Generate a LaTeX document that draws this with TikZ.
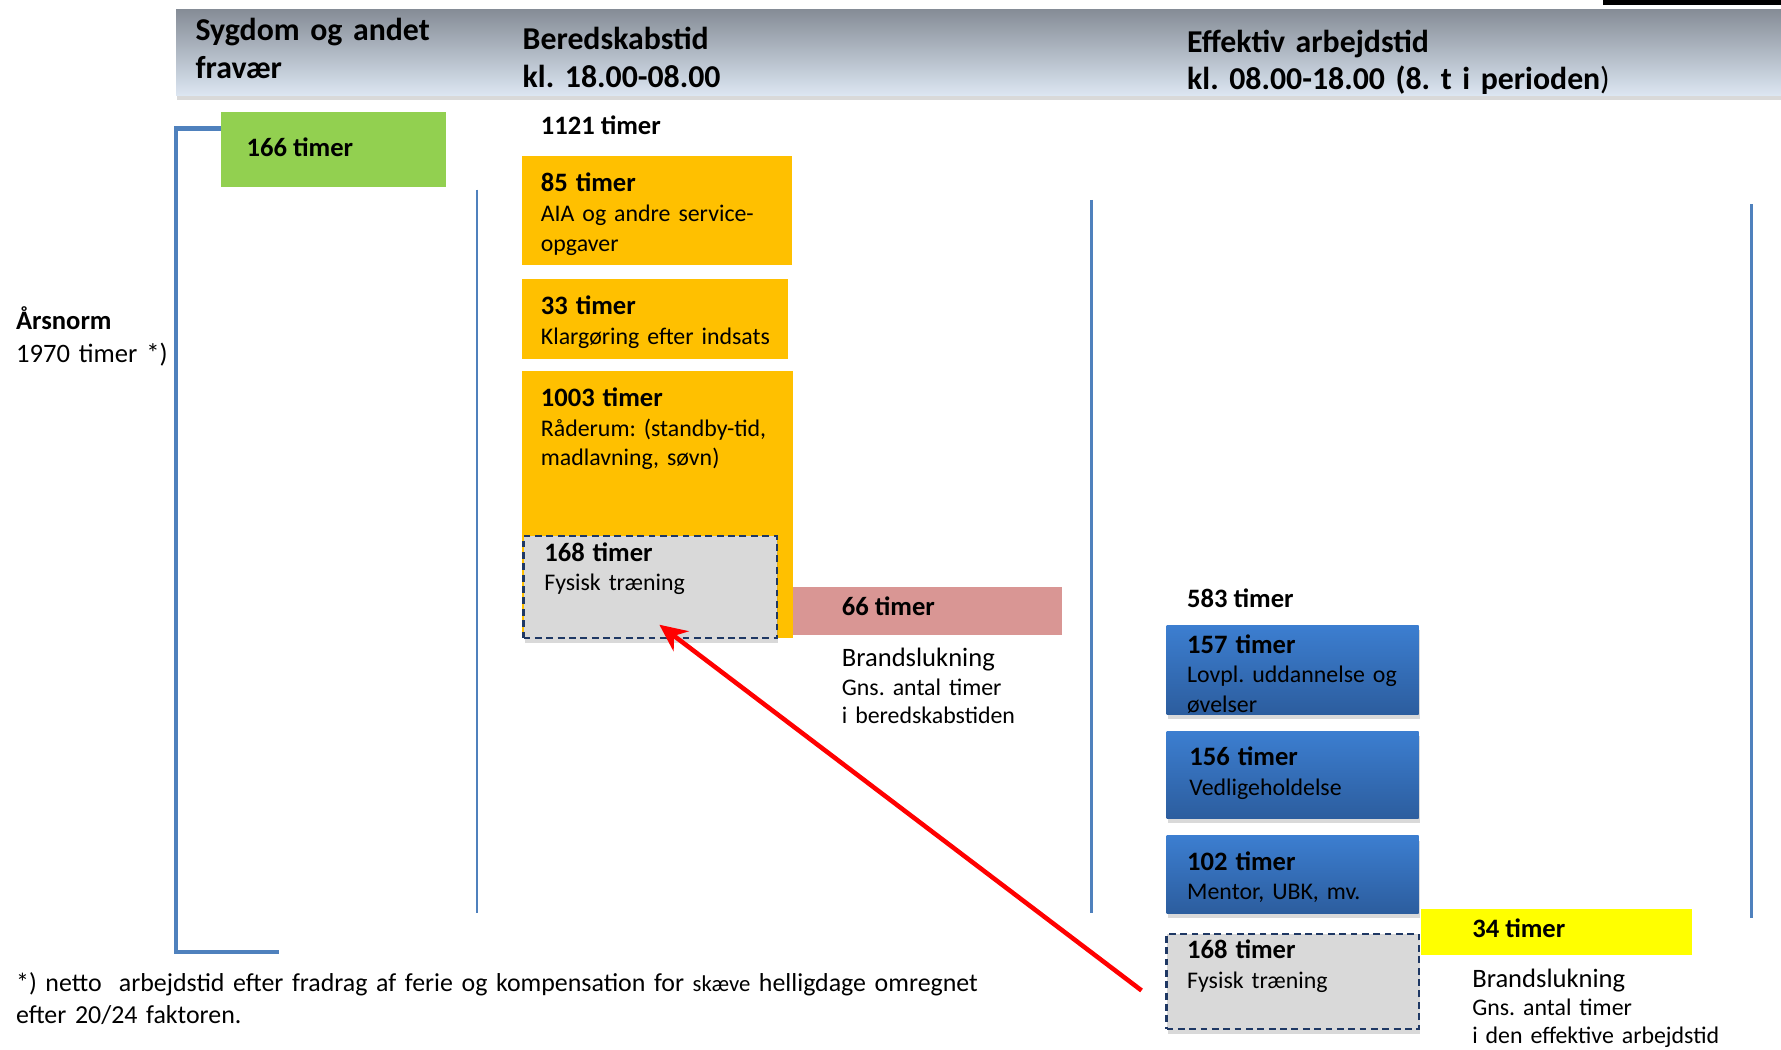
\documentclass[tikz,border=0pt]{standalone}
\usepackage{fontspec}
\setmainfont{Carlito}
\usepackage{xcolor}
\usetikzlibrary{positioning,shadows,arrows.meta,calc}
\frenchspacing

\definecolor{hdrtop}{HTML}{858C96}
\definecolor{hdrbot}{HTML}{DCE6F2}
\definecolor{orangebox}{HTML}{FFC000}
\definecolor{greenbox}{HTML}{92D050}
\definecolor{pinkbox}{HTML}{D99694}
\definecolor{yellowbox}{HTML}{FFFF00}
\definecolor{fysgray}{HTML}{D9D9D9}
\definecolor{fysline}{HTML}{1F3864}
\definecolor{bluetop}{HTML}{3C7ED0}
\definecolor{bluebot}{HTML}{2C5D9E}
\definecolor{linecol}{HTML}{4F81BD}

\begin{document}
\begin{tikzpicture}[
    x=1pt, y=-1pt,
    block/.style={rectangle, inner sep=0pt, outer sep=0pt, anchor=north west},
    shade/.style={drop shadow={shadow xshift=1pt, shadow yshift=-4pt, opacity=0.3}},
    bluebox/.style={block, top color=bluetop, bottom color=bluebot, minimum width=222pt, shade},
    fysbox/.style={block, fill=fysgray, draw=fysline, line width=2pt, dash pattern=on 6pt off 4pt, shade},
    head/.style={anchor=base west, inner sep=0pt, text width=420pt, align=left, font=\bfseries\fontsize{28}{33}\selectfont},
    title/.style={anchor=base west, inner sep=0pt, font=\bfseries\fontsize{23.4}{26}\selectfont},
    body/.style={anchor=base west, inner sep=0pt, text width=300pt, align=left, font=\fontsize{21}{26}\selectfont},
    note/.style={anchor=base west, inner sep=0pt, text width=320pt, align=left, font=\fontsize{21}{25}\selectfont},
    vline/.style={draw=linecol, line width=2pt},
    redarrow/.style={-{Stealth[length=24pt,width=22pt]}, draw=red, line width=4pt}
]
\useasboundingbox (0,0) rectangle (1568,924);

% Header
\fill (1411,0) rectangle (1568,4);
\node[block, top color=hdrtop, bottom color=hdrbot, minimum width=1413pt, minimum height=76pt, shade] (hdr) at (155,8) {};
\node[head] (hsyg) at ([xshift=17pt, yshift=-28pt]hdr.north west) {Sygdom og andet\\fravær};
\node[head] (hber) at ([xshift=305pt, yshift=-36pt]hdr.north west) {Beredskabstid\\kl. 18.00-08.00};
\node[head, text width=520pt] (heff) at ([xshift=890pt, yshift=-38pt]hdr.north west) {Effektiv arbejdstid\\kl. 08.00-18.00 (8. t i perioden{\mdseries)}};

% Aarsnorm
\node[body, font=\fontsize{23.4}{29}\selectfont] (norm) at (14,290) {\textbf{Årsnorm}\\1970 timer *)};
\draw[draw=linecol, line width=4pt] (195,113) -- (155,113) -- (155,838) -- (246,838);

% Sygdom
\node[block, fill=greenbox, minimum width=198pt, minimum height=66pt] (syg) at (195,99) {};
\node[title] (sygT) at ([xshift=22pt, yshift=-39pt]syg.north west) {166 timer};

% Separators
\draw[vline] (420,167) -- (420,804);
\draw[vline] (961,176) -- (961,804);
\draw[vline] (1542,180) -- (1542,808);

% Beredskabstid
\node[block, fill=orangebox, minimum width=237pt, minimum height=96pt] (aia) at (460,137) {};
\node[title] (berT) at ([xshift=16pt, yshift=19pt]aia.north west) {1121 timer};
\node[body] (aiaT) at ([xshift=16pt, yshift=-32pt]aia.north west) {\textbf{\fontsize{23.4}{26}\selectfont 85 timer}\\AIA og andre service-\\opgaver};
\node[block, fill=orangebox, minimum width=234pt, minimum height=70pt] (klar) at (460,246) {};
\node[body] (klarT) at ([xshift=16pt, yshift=-31pt]klar.north west) {\textbf{\fontsize{23.4}{26}\selectfont 33 timer}\\Klargøring efter indsats};
\node[block, fill=orangebox, minimum width=238pt, minimum height=235pt] (raad) at (460,327) {};
\node[body] (raadT) at ([xshift=16pt, yshift=-31pt]raad.north west) {\textbf{\fontsize{23.4}{26}\selectfont 1003 timer}\\Råderum: (standby-tid,\\madlavning, søvn)};
\node[fysbox, minimum width=223pt, minimum height=90pt] (fys1) at (461,472) {};
\node[body] (fys1T) at ([xshift=18pt, yshift=-22pt]fys1.north west) {\textbf{\fontsize{23.4}{26}\selectfont 168 timer}\\Fysisk træning};
\node[block, fill=pinkbox, minimum width=237pt, minimum height=42pt] (brand1) at (698,517) {};
\node[title] (brand1T) at ([xshift=43pt, yshift=-25pt]brand1.north west) {66 timer};
\node[note] (brand1N) at ([xshift=43pt, yshift=-28pt]brand1.south west) {{\fontsize{23.4}{25}\selectfont Brandslukning}\\Gns. antal timer\\i beredskabstiden};

% Effektiv arbejdstid
\node[bluebox, minimum height=78pt] (udd) at (1027,551) {};
\node[title] (effT) at ([xshift=18pt, yshift=16pt]udd.north west) {583 timer};
\node[body] (uddT) at ([xshift=18pt, yshift=-24pt]udd.north west) {\textbf{\fontsize{23.4}{26}\selectfont 157 timer}\\Lovpl. uddannelse og\\øvelser};
\node[bluebox, minimum height=77pt] (vedl) at (1027,644) {};
\node[body] (vedlT) at ([xshift=20pt, yshift=-30pt]vedl.north west) {\textbf{\fontsize{23.4}{26}\selectfont 156 timer}\\Vedligeholdelse};
\node[bluebox, minimum height=68pt] (ment) at (1027,736) {};
\node[body] (mentT) at ([xshift=18pt, yshift=-30pt]ment.north west) {\textbf{\fontsize{23.4}{26}\selectfont 102 timer}\\Mentor, UBK, mv.};
\node[fysbox, minimum width=222pt, minimum height=84pt] (fys2) at (1027,822) {};
\node[body] (fys2T) at ([xshift=18pt, yshift=-22pt]fys2.north west) {\textbf{\fontsize{23.4}{26}\selectfont 168 timer}\\Fysisk træning};
\node[block, fill=yellowbox, minimum width=239pt, minimum height=41pt] (brand2) at (1251,800) {};
\node[title] (brand2T) at ([xshift=45pt, yshift=-25pt]brand2.north west) {34 timer};
\node[note] (brand2N) at ([xshift=45pt, yshift=-28pt]brand2.south west) {{\fontsize{23.4}{25}\selectfont Brandslukning}\\Gns. antal timer\\i den effektive arbejdstid};

% Arrow
\draw[redarrow] ([xshift=-22pt, yshift=-8pt]fys2.west) -- ([xshift=8pt, yshift=12pt]fys1.south);

% Footnote
\node[note, text width=1000pt, font=\fontsize{22.8}{28}\selectfont] (foot) at (14,873) {*) netto\ \ arbejdstid efter fradrag af ferie og kompensation for {\fontsize{20}{28}\selectfont skæve} helligdage omregnet\\efter 20/24 faktoren.};
\end{tikzpicture}
\end{document}
